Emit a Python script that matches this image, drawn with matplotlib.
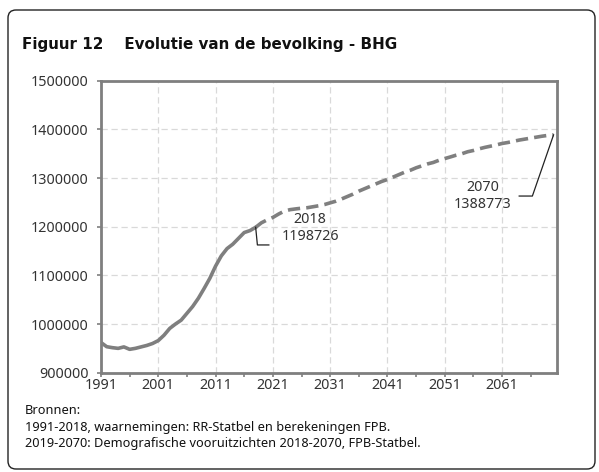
import matplotlib
matplotlib.use("Agg")
import matplotlib.pyplot as plt
from matplotlib.patches import FancyBboxPatch
from matplotlib.transforms import IdentityTransform

# observed population 1991-2018
obs_years = list(range(1991, 2019))
obs_values = [962000, 953400, 951400, 950000, 953000, 948000, 950000, 953000,
              956000, 960000, 966000, 977000, 991000, 1000000, 1008000, 1022000,
              1036000, 1053000, 1073000, 1094000, 1119000, 1140000, 1155000,
              1164000, 1176000, 1188000, 1192000, 1198726]

# projection 2018-2070
proj_years = list(range(2018, 2071))
proj_values = [1198726, 1208000, 1214000, 1219000, 1226000, 1232000, 1235000,
               1236600, 1238000, 1239000, 1241000, 1243000, 1245500, 1249000,
               1252400, 1257000, 1262000, 1267000, 1273000, 1278000, 1283000,
               1288000, 1293000, 1297000, 1302000, 1307000, 1312000, 1316000,
               1321000, 1325000, 1329000, 1332000, 1336500, 1340000, 1343400,
               1347000, 1350000, 1354000, 1356600, 1360000, 1363000, 1365500,
               1368000, 1371000, 1373000, 1375500, 1378000, 1380000, 1382000,
               1384000, 1386000, 1387600, 1388773]

x_ticks = list(range(1991, 2071, 10))
y_ticks = list(range(900000, 1500001, 100000))

title = "Figuur 12    Evolutie van de bevolking - BHG"
footer = ["Bronnen:",
          "1991-2018, waarnemingen: RR-Statbel en berekeningen FPB.",
          "2019-2070: Demografische vooruitzichten 2018-2070, FPB-Statbel."]

FONT = "Noto Sans"
GRAY = "#7f7f7f"

fig = plt.figure(figsize=(5.99, 4.72), dpi=100)
ax = fig.add_axes([0.1686, 0.2104, 0.7613, 0.6186])

ax.plot(obs_years, obs_values, color=GRAY, lw=2.6, solid_capstyle="round", zorder=3)
ax.plot(proj_years, proj_values, color=GRAY, lw=2.6, linestyle=(0, (3.4, 1.7)),
        dash_capstyle="butt", zorder=3)

ax.set_xlim(1991, 2070.6)
ax.set_ylim(900000, 1500000)
ax.set_xticks(x_ticks)
ax.set_xticks(list(range(1996, 2071, 5)), minor=True)
ax.set_yticks(y_ticks)
ax.set_xticklabels([str(t) for t in x_ticks], fontfamily=FONT, fontsize=10.3, color="#333333")
ax.set_yticklabels([str(t) for t in y_ticks], fontfamily=FONT, fontsize=10.3, color="#333333")
ax.tick_params(axis="both", which="both", length=3, width=1.2, color=GRAY, direction="out")
ax.tick_params(axis="x", pad=1)
ax.tick_params(axis="y", pad=6)
ax.grid(True, which="major", color="#d9d9d9", linestyle=(0, (5, 3)), lw=0.9)
for s in ax.spines.values():
    s.set_color(GRAY)
    s.set_linewidth(2)

# leader lines and labels
ax.plot([2018, 2018.3, 2020.3], [1198726, 1162500, 1162500], color="#222222", lw=0.9, zorder=4)
ax.text(2027.5, 1197000, "2018\n1198726", ha="center", va="center", fontfamily=FONT,
        fontsize=10.3, color="#333333", linespacing=1.2)
ax.plot([2070, 2066.3, 2064], [1388773, 1263000, 1263000], color="#222222", lw=0.9,
        zorder=4, clip_on=False)
ax.text(2057.6, 1263000, "2070\n1388773", ha="center", va="center", fontfamily=FONT,
        fontsize=10.3, color="#333333", linespacing=1.2)

fig.text(22 / 599, 1 - 44 / 472, title, fontfamily="DejaVu Sans", fontweight="bold",
         fontsize=10.9, color="#111111", va="center", ha="left")
for i, line in enumerate(footer):
    fig.text(25 / 599, 1 - (411 + 16 * i) / 472, line, fontfamily=FONT,
             fontsize=9.2, color="#111111", va="center", ha="left")

frame = FancyBboxPatch((8, 3), 587, 459, boxstyle="round,pad=0,rounding_size=8",
                       transform=IdentityTransform(), fill=False, ec="#222222", lw=1.0)
fig.patches.append(frame)

fig.savefig("out.png", dpi=100)
